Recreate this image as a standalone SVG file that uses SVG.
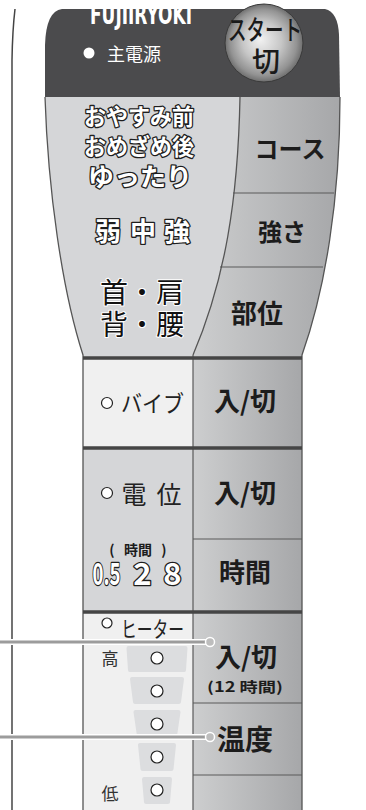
<svg xmlns="http://www.w3.org/2000/svg" width="366" height="810" viewBox="0 0 366 810">
<defs>
<linearGradient id="rg" x1="0" y1="0" x2="1" y2="0">
<stop offset="0" stop-color="#cdcecf"/>
<stop offset="1" stop-color="#a6a7a9"/>
</linearGradient>
<radialGradient id="btn" cx="0.5" cy="0.5" r="0.5" fx="0.45" fy="0.45">
<stop offset="0" stop-color="#f2f2f2"/>
<stop offset="0.5" stop-color="#c6c6c6"/>
<stop offset="0.85" stop-color="#939393"/>
<stop offset="1" stop-color="#6e6e6e"/>
</radialGradient>
<style>
.jp{font-family:"Noto Sans CJK JP","Noto Sans",sans-serif}
.ol{fill:#fff;stroke:#1e1e1e;stroke-width:2.6;paint-order:stroke;stroke-linejoin:round;font-weight:700}
.blk{fill:#111;stroke:#fff;stroke-width:2;paint-order:stroke;stroke-linejoin:round}
.lab{fill:#1c1c1c;font-weight:700}
.sm{fill:#222}
.edge{fill:none;stroke:#555;stroke-width:1.3}
.thick{stroke:#454545;stroke-width:3.5}
.thin{stroke:#5a5a5a;stroke-width:1.2}
.led{fill:#fff;stroke:#222;stroke-width:1.2}
.trap{fill:#dcdddf;stroke:#dcdddf;stroke-width:4;stroke-linejoin:round}
</style>
</defs>
<rect width="366" height="810" fill="#fff"/>
<path d="M15,9 Q12.5,30 12,60 L12,810" fill="none" stroke="#444" stroke-width="1.5"/>

<g id="header">
<path d="M62,9 L325,9 Q338,12 339,35 L340,97 L45,97 L45,45 Q46,11 62,9 Z" fill="#4b4b4d"/>
<text x="90" y="24" font-family="DejaVu Sans Condensed, DejaVu Sans, sans-serif" font-weight="700" font-size="26" fill="#fff" textLength="102" lengthAdjust="spacingAndGlyphs">FUJIIRYOKI</text>
<path d="M40,0 H340 V9 H40 Z" fill="#fff"/>
<circle cx="89" cy="53" r="5.5" fill="#fff"/>
<text class="jp" x="107" y="61" font-size="18" fill="#fff">主電源</text>
</g>

<g id="start-button">
<circle cx="264" cy="43" r="39" fill="url(#btn)" stroke="#3a3a3a" stroke-width="1"/>
<text class="jp" x="265" y="40" font-size="27" font-weight="500" fill="#1a1a1a" text-anchor="middle" textLength="74" lengthAdjust="spacingAndGlyphs">スタート</text>
<text class="jp" x="266" y="72" font-size="28" font-weight="500" fill="#1a1a1a" text-anchor="middle">切</text>
</g>

<g id="mode-panel">
<path d="M45,97 L240,97 C238,200 225,280 193,355 L193,358 L83,358 L83,355 C62,290 48,190 45,97 Z" fill="#d5d6d8"/>
<text class="jp ol" x="139" y="125" font-size="23" text-anchor="middle" textLength="110" lengthAdjust="spacingAndGlyphs">おやすみ前</text>
<text class="jp ol" x="139" y="155" font-size="23" text-anchor="middle" textLength="110" lengthAdjust="spacingAndGlyphs">おめざめ後</text>
<text class="jp ol" x="140" y="186" font-size="25" text-anchor="middle" textLength="104" lengthAdjust="spacingAndGlyphs">ゆったり</text>
<text class="jp ol" x="108" y="241" font-size="26" text-anchor="middle">弱</text>
<text class="jp ol" x="143" y="241" font-size="26" text-anchor="middle">中</text>
<text class="jp ol" x="177" y="241" font-size="26" text-anchor="middle">強</text>
<text class="jp blk" x="142" y="303" font-size="28" text-anchor="middle" textLength="84" lengthAdjust="spacingAndGlyphs">首・肩</text>
<text class="jp blk" x="142" y="335" font-size="28" text-anchor="middle" textLength="84" lengthAdjust="spacingAndGlyphs">背・腰</text>
</g>

<g id="select-buttons">
<path d="M240,97 L340,97 C340,200 325,290 302,355 L302,358 L193,358 L193,355 C225,280 238,200 240,97 Z" fill="url(#rg)"/>
<line class="thin" x1="233" y1="193" x2="334" y2="193"/>
<line class="thin" x1="220" y1="267" x2="323" y2="267"/>
<path class="edge" d="M240,97 C238,200 225,280 193,355"/>
<text class="jp lab" x="290" y="158" font-size="24" text-anchor="middle">コース</text>
<text class="jp lab" x="282" y="241" font-size="24" text-anchor="middle">強さ</text>
<text class="jp lab" x="257" y="323" font-size="26" text-anchor="middle">部位</text>
</g>

<g id="vibe">
<rect x="83" y="358" width="110" height="90" fill="#f0f0f0"/>
<rect x="193" y="358" width="109" height="90" fill="url(#rg)"/>
<circle class="led" cx="107" cy="403" r="5.5"/>
<text class="jp sm" x="121" y="412" font-size="23" textLength="63" lengthAdjust="spacingAndGlyphs">バイブ</text>
<text class="jp lab" x="245" y="411" font-size="26" text-anchor="middle">入/切</text>
</g>

<g id="potential">
<rect x="83" y="448" width="110" height="164" fill="#d5d6d8"/>
<rect x="193" y="448" width="109" height="164" fill="url(#rg)"/>
<line class="thin" x1="193" y1="539" x2="302" y2="539"/>
<circle class="led" cx="107" cy="493" r="5.5"/>
<text class="jp sm" x="134" y="504" font-size="25" text-anchor="middle">電</text>
<text class="jp sm" x="169" y="504" font-size="25" text-anchor="middle">位</text>
<text class="jp lab" x="245" y="503" font-size="26" text-anchor="middle">入/切</text>
<text class="jp lab" x="138" y="555" font-size="14" text-anchor="middle"><tspan x="112">(</tspan><tspan x="138">時間</tspan><tspan x="164">)</tspan></text>
<text class="jp ol" x="106.5" y="585" font-size="31" text-anchor="middle" textLength="28" lengthAdjust="spacingAndGlyphs">0.5</text>
<text class="jp ol" x="142.5" y="585" font-size="31" text-anchor="middle">2</text>
<text class="jp ol" x="172.5" y="585" font-size="31" text-anchor="middle">8</text>
<text class="jp lab" x="245" y="582" font-size="26" text-anchor="middle">時間</text>
</g>

<g id="heater">
<rect x="83" y="612" width="110" height="198" fill="#f0f0f0"/>
<rect x="193" y="612" width="109" height="198" fill="url(#rg)"/>
<line class="thin" x1="193" y1="703" x2="302" y2="703"/>
<line class="thin" x1="193" y1="775" x2="302" y2="775"/>
<circle class="led" cx="107" cy="623" r="5"/>
<text class="jp sm" x="121" y="637" font-size="22" textLength="63" lengthAdjust="spacingAndGlyphs">ヒーター</text>
<text class="jp" x="110" y="665" font-size="17" fill="#333" text-anchor="middle">高</text>
<text class="jp" x="110" y="800" font-size="17" fill="#333" text-anchor="middle">低</text>
<polygon class="trap" points="128.5,648 185.5,648 184,670 130,670"/>
<polygon class="trap" points="132,679 182,679 179,702 135,702"/>
<polygon class="trap" points="135.5,712 178.5,712 175,736 139,736"/>
<polygon class="trap" points="140,745 174,745 171.5,769 142.5,769"/>
<polygon class="trap" points="144,779 170,779 168,802 146,802"/>
<circle class="led" cx="157" cy="658" r="6"/>
<circle class="led" cx="157" cy="691" r="6"/>
<circle class="led" cx="157" cy="724" r="6"/>
<circle class="led" cx="157" cy="757" r="6"/>
<circle class="led" cx="157" cy="790" r="6"/>
<text class="jp lab" x="246" y="667" font-size="26" font-weight="500" text-anchor="middle">入/切</text>
<text class="jp lab" x="245" y="692" font-size="14" text-anchor="middle" textLength="76" lengthAdjust="spacingAndGlyphs">(12 時間)</text>
<text class="jp lab" x="245" y="750" font-size="28" text-anchor="middle">温度</text>
</g>

<g id="body-lines">
<path class="edge" d="M45,97 C48,190 62,290 83,355 L83,810"/>
<path class="edge" d="M340,97 C340,200 325,290 302,355 L302,810"/>
<line class="thin" x1="193" y1="355" x2="193" y2="810"/>
<line class="thick" x1="83" y1="358" x2="302" y2="358"/>
<line class="thick" x1="83" y1="448" x2="302" y2="448"/>
<line class="thick" x1="83" y1="612" x2="302" y2="612"/>
</g>

<g id="connectors">
<line x1="0" y1="642" x2="208" y2="642" stroke="#fff" stroke-width="6"/>
<line x1="0" y1="642" x2="208" y2="642" stroke="#9c9c9c" stroke-width="3"/>
<circle cx="210" cy="642" r="4.5" fill="#bdbdbd" stroke="#fff" stroke-width="1.5"/>
<line x1="0" y1="737" x2="208" y2="737" stroke="#fff" stroke-width="6"/>
<line x1="0" y1="737" x2="208" y2="737" stroke="#9c9c9c" stroke-width="3"/>
<circle cx="210" cy="737" r="4.5" fill="#bdbdbd" stroke="#fff" stroke-width="1.5"/>
</g>
</svg>
